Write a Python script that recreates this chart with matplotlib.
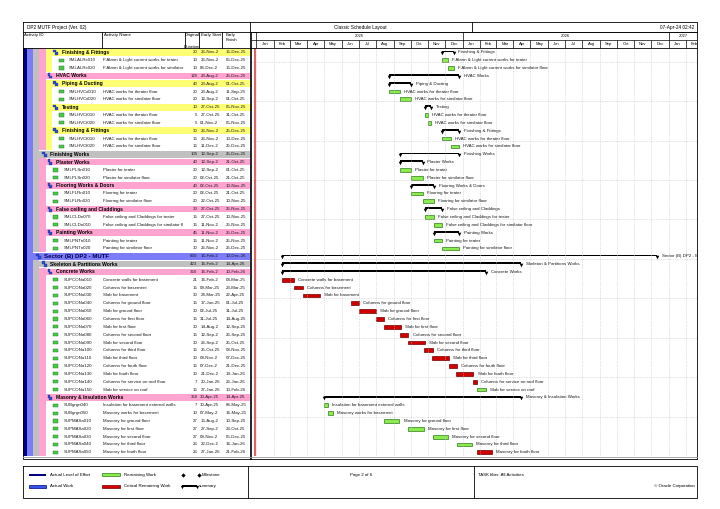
import datetime as dt
import numpy as np
import matplotlib
matplotlib.use('Agg')
import matplotlib.pyplot as plt
import matplotlib.dates as mdates
from matplotlib.patches import Rectangle
from matplotlib.transforms import Bbox, TransformedBbox

plt.rcParams['font.family'] = ['Liberation Sans', 'DejaVu Sans']

# ---------------- data ----------------
row_kind = (['g', 'a', 'a', 'g', 'g', 'a', 'a', 'g', 'a', 'a', 'g', 'a', 'a',
             'g', 'g', 'a', 'a', 'g', 'a', 'a', 'g', 'a', 'a', 'g', 'a', 'a',
             'g', 'g', 'g'] + ['a'] * 15 + ['g'] + ['a'] * 7)
row_level = ([4, 4, 4, 3, 4, 4, 4, 4, 4, 4, 4, 4, 4,
              2, 3, 3, 3, 3, 3, 3, 3, 3, 3, 3, 3, 3,
              1, 2, 3] + [3] * 15 + [3] + [3] * 7)
act_ids = ['', 'SMLALRc010', 'SMLALRc020', '', '', 'SMLHVCd010', 'SMLHVCd020', '',
           'SMLHVCt010', 'SMLHVCt020', '', 'SMLHVCf010', 'SMLHVCf020',
           '', '', 'SMLPLSn010', 'SMLPLSn020', '', 'SMLFLRn010', 'SMLFLRn020', '',
           'SMLCLDn070', 'SMLCLDn010', '', 'SMLPNTn010', 'SMLPNTn020',
           '', '', '',
           'SUPCONa010', 'SUPCONa020', 'SUPCONa030', 'SUPCONa040', 'SUPCONa050',
           'SUPCONa060', 'SUPCONa070', 'SUPCONa080', 'SUPCONa090', 'SUPCONa100',
           'SUPCONa110', 'SUPCONa120', 'SUPCONa130', 'SUPCONa140', 'SUPCONa150',
           '', 'SUBgrgn040', 'SUBgrgn050', 'SUPMASa010', 'SUPMASa020', 'SUPMASa030',
           'SUPMASa040', 'SUPMASa050']
act_names = ['Finishing & Fittings', 'F.Alarm & Light current works for teater',
             'F.Alarm & Light current works for similator floor', 'HVAC Works',
             'Piping & Ducting', 'HVAC works for theater floor', 'HVAC works for similator floor',
             'Testing', 'HVAC works for theater floor', 'HVAC works for similator floor',
             'Finishing & Fittings', 'HVAC works for theater floor', 'HVAC works for similator floor',
             'Finishing Works', 'Plaster Works', 'Plaster for teater', 'Plaster for similator floor',
             'Flooring Works & Doors', 'Flooring for teater', 'Flooring for similator floor',
             'False ceiling and Claddings', 'False ceiling and Claddings for teater',
             'False ceiling and Claddings for similator floor',
             'Painting Works', 'Painting for teater', 'Painting for similator floor',
             'Sector (B) DP2 - MUTF', 'Skeleton & Partitions Works', 'Concrete Works',
             'Concrete walls for basement', 'Columns for basement', 'Slab for basement',
             'Columns for ground floor', 'Slab for ground floor', 'Columns for first floor',
             'Slab for first floor', 'Columns for second floor', 'Slab for second floor',
             'Columns for third floor', 'Slab for third floor', 'Columns for fouth floor',
             'Slab for fouth floor', 'Columns for service on roof floor', 'Slab for service on roof',
             'Masonry & Insulation Works', 'Insulation for basement external walls',
             'Masonry works for basement', 'Masonry for ground floor', 'Masonry for first floor',
             'Masonry for second floor', 'Masonry for third floor', 'Masonry for fouth floor']
durations = [20, 10, 10, 125, 40, 20, 20, 10, 5, 5, 30, 15, 15,
             105, 40, 20, 20, 40, 20, 20, 30, 15, 15, 45, 15, 30,
             660, 423, 360,
             21, 15, 30, 15, 30, 15, 30, 15, 30, 15, 30, 15, 30, 7, 15,
             350, 7, 10, 27, 27, 27, 26, 26]
starts = ['26-Nov-25', '26-Nov-25', '06-Dec-25', '23-Aug-25', '23-Aug-25', '23-Aug-25',
          '12-Sep-25', '27-Oct-25', '27-Oct-25', '01-Nov-25', '26-Nov-25', '26-Nov-25',
          '11-Dec-25',
          '12-Sep-25', '12-Sep-25', '12-Sep-25', '02-Oct-25', '02-Oct-25', '02-Oct-25',
          '22-Oct-25', '27-Oct-25', '27-Oct-25', '11-Nov-25', '11-Nov-25', '11-Nov-25',
          '26-Nov-25',
          '16-Feb-25', '16-Feb-25', '16-Feb-25',
          '16-Feb-25', '09-Mar-25', '24-Mar-25', '17-Jun-25', '02-Jul-25', '31-Jul-25',
          '14-Aug-25', '12-Sep-25', '26-Sep-25', '25-Oct-25', '08-Nov-25', '07-Dec-25',
          '21-Dec-25', '20-Jan-26', '27-Jan-26',
          '30-Apr-25', '30-Apr-25', '07-May-25', '15-Aug-25', '27-Sep-25', '09-Nov-25',
          '22-Dec-25', '27-Jan-26']
finishes = ['15-Dec-25', '05-Dec-25', '15-Dec-25', '25-Dec-25', '01-Oct-25', '11-Sep-25',
            '01-Oct-25', '05-Nov-25', '31-Oct-25', '05-Nov-25', '25-Dec-25', '10-Dec-25',
            '25-Dec-25',
            '25-Dec-25', '21-Oct-25', '01-Oct-25', '21-Oct-25', '10-Nov-25', '21-Oct-25',
            '10-Nov-25', '25-Nov-25', '10-Nov-25', '25-Nov-25', '25-Dec-25', '25-Nov-25',
            '25-Dec-25',
            '10-Dec-26', '14-Apr-26', '10-Feb-26',
            '08-Mar-25', '23-Mar-25', '22-Apr-25', '01-Jul-25', '31-Jul-25', '14-Aug-25',
            '12-Sep-25', '26-Sep-25', '25-Oct-25', '08-Nov-25', '07-Dec-25', '21-Dec-25',
            '19-Jan-26', '26-Jan-26', '10-Feb-26',
            '14-Apr-26', '06-May-25', '16-May-25', '10-Sep-25', '23-Oct-25', '05-Dec-25',
            '16-Jan-26', '21-Feb-26']
critical = [0] * 29 + [1] * 14 + [0] + [0] + [0] * 6 + [1]

month_names = ['Jan', 'Feb', 'Mar', 'Apr', 'May', 'Jun',
               'Jul', 'Aug', 'Sep', 'Oct', 'Nov', 'Dec']
years = [2025, 2026, 2027]

# ---------------- layout helpers ----------------
W, H = 720, 509
fig = plt.figure(figsize=(7.2, 5.09), dpi=100)
rend = fig.canvas.get_renderer()


def width_of(text, size, **kw):
    t = fig.text(0, 0, text, fontsize=size, **kw)
    w = t.get_window_extent(rend).width
    t.remove()
    return w


def fit(text, px, **kw):
    # font size that makes `text` about `px` pixels wide
    return 10 * px / width_of(text, 10, **kw)


def cut(text, px, size):
    # drop trailing characters that do not fit a column, like P6 does
    while len(text) > 1 and width_of(text, size) > px:
        text = text[:-1]
    return text


FS = fit('Concrete walls for basement', 56)
FSB = fit('Finishing & Fittings', 46.7, fontweight='bold')
FSS = fit('Sector (B) DP2 - MUTF', 65.7, fontweight='bold')
FST = fit('DP2 MUTF Project (Ver. 02)', 60)


def place(x0, y0, x1, y1):
    return [x0 / W, 1 - y1 / H, (x1 - x0) / W, (y1 - y0) / H]


def d(s):
    return mdates.date2num(dt.datetime.strptime(s, '%d-%b-%y'))


n = len(row_kind)
YLIM = (51.47, -0.55)
TR = 249.5  # right edge of the table
TXT = '#1A1A1A'

# ---------------- activity table ----------------
tab = fig.add_axes(place(22.7, 48, TR, 456))
tab.set_xlim(22.7, TR)
tab.set_ylim(*YLIM)
tab.axis('off')

band_x = [22.7, 27.4, 33.3, 39.3, 45.6, 51.5]
level_col = ['#000080', '#7C7CF8', '#C0C0C0', '#FFA3D1', '#FFFF73']

for i in range(n):
    L = row_level[i]
    for l in range(L + 1):
        tab.add_patch(Rectangle((band_x[l], i - 0.5), band_x[l + 1] - band_x[l], 1,
                                fc=level_col[l], ec='none'))
    if row_kind[i] == 'g':
        tab.add_patch(Rectangle((band_x[L], i - 0.42), TR - band_x[L], 0.84,
                                fc=level_col[L], ec='none'))
        gx = 30.3 + 5.75 * L
        tab.add_patch(Rectangle((gx, i - 0.34), 2.8, 0.36, fc='#2B4FD8', ec='#10206F', lw=0.2))
        tab.add_patch(Rectangle((gx + 1.9, i - 0.04), 2.8, 0.36, fc='#2B4FD8', ec='#10206F', lw=0.2))
        size = FSS if L == 1 else FSB
        col = '#000050' if L == 1 else 'black'
        tab.text(gx + 8.3, i, act_names[i], fontsize=size, fontweight='bold',
                 va='center', ha='left', color=col)
    else:
        ax_ = 30.3 + 5.75 * (L + 1)
        tab.add_patch(Rectangle((ax_, i - 0.2), 5, 0.4, fc='#48CC48', ec='#1E6E1E', lw=0.3))
        tab.text(ax_ + 10, i, act_ids[i], fontsize=FS, va='center', ha='left', color=TXT)
        tab.text(103.3, i, cut(act_names[i], 81, FS), fontsize=FS, va='center',
                 ha='left', color=TXT)
    tab.text(197.5, i, str(durations[i]), fontsize=FS, va='center', ha='right', color=TXT)
    tab.text(200.3, i, cut(starts[i], 20.0, FS), fontsize=FS, va='center', ha='left', color=TXT)
    tab.text(225.5, i, cut(finishes[i], 23, FS), fontsize=FS, va='center', ha='left', color=TXT)

# ---------------- gantt ----------------
X0 = mdates.date2num(dt.datetime(2025, 1, 1))
XLIM = (X0 - 9.7, X0 + 779.9)
gan = fig.add_axes(place(251, 48, 697, 456))
gan.set_xlim(*XLIM)
gan.set_ylim(*YLIM)
gan.axis('off')

months = [dt.datetime(2025 + k // 12, k % 12 + 1, 1) for k in range(27)]
mnum = mdates.date2num(months)
gan.vlines(mnum[(mnum > XLIM[0]) & (mnum < XLIM[1])], YLIM[1], YLIM[0],
           colors='#C4C4C4', linestyles=(0, (1, 1.5)), lw=0.5)
gan.hlines(np.arange(1.2, 51.4, 5.027), XLIM[0], XLIM[1],
           colors='#C4C4C4', linestyles=(0, (1, 1.5)), lw=0.5)
gan.axvline(X0 - 2.7, color='#E05050', lw=1.3)

for i in range(n):
    s, f = d(starts[i]), d(finishes[i]) + 1
    if row_kind[i] == 'g':
        gan.barh(i - 0.1, f - s, left=s, height=0.24, color='black')
        gan.plot([s, f], [i + 0.12, i + 0.12], 'v', ms=2.6, color='black', mew=0)
        off = 3.4
    else:
        fc, ec = ('#D00000', '#700000') if critical[i] else ('#8CEB4C', '#2E7A1E')
        gan.barh(i, f - s, left=s, height=0.48, color=fc, edgecolor=ec, lw=0.5)
        off = 3.0
    lab = gan.annotate(act_names[i], (f, i), xytext=(off, 0), textcoords='offset points',
                       va='center', ha='left', fontsize=FS, color=TXT,
                       annotation_clip=False)
    lab.set_clip_on(True)
    lab.set_clip_box(gan.bbox)

# ---------------- timescale header ----------------
hdr = fig.add_axes(place(251, 32, 697, 48))
hdr.set_xlim(*XLIM)
hdr.set_ylim(2, 0)
hdr.axis('off')
hdr.hlines([0, 1, 2], XLIM[0], XLIM[1], colors='black', lw=0.5)
for k, m in enumerate(months):
    x = mdates.date2num(m)
    if XLIM[0] < x < XLIM[1]:
        top = 0 if m.month == 1 else 1
        hdr.vlines(x, top, 2, colors='black', lw=0.5)
    nxt = mdates.date2num(months[k + 1]) if k + 1 < len(months) else x + 28
    c = (x + nxt) / 2
    if c < XLIM[1]:
        mt = hdr.text(c, 1.5, month_names[m.month - 1], fontsize=FS * 0.95, ha='center',
                      va='center')
        mt.set_clip_box(hdr.bbox)
for y in years:
    a = max(mdates.date2num(dt.datetime(y, 1, 1)), XLIM[0])
    b = min(mdates.date2num(dt.datetime(y + 1, 1, 1)), XLIM[1])
    hdr.text((a + b) / 2, 0.5, str(y), fontsize=FS * 0.95, ha='center', va='center')

# ---------------- page frame, titles, legend ----------------
ov = fig.add_axes([0, 0, 1, 1])
ov.set_xlim(0, W)
ov.set_ylim(H, 0)
ov.axis('off')
ov.set_zorder(5)
ov.patch.set_visible(False)

lk = dict(color='black', lw=0.6)
ov.plot([22.7, 697, 697, 22.7, 22.7], [22, 22, 459, 459, 22], **lk)
ov.plot([22.7, 697], [32, 32], **lk)
ov.plot([22.7, 697], [48, 48], **lk)
ov.plot([250, 250], [22, 32], **lk)
ov.plot([472, 472], [22, 32], **lk)
for xc in [102, 185, 199, 221.7]:
    ov.plot([xc, xc], [32, 48], **lk)
ov.plot([TR, TR], [32, 459], **lk)
ov.plot([251, 251], [32, 459], **lk)
ov.plot([22.7, 697], [456.5, 456.5], color='#9A9A9A', lw=0.6)

ov.text(27, 27.3, 'DP2 MUTF Project (Ver. 02)', fontsize=FST, va='center')
ov.text(360, 27.3, 'Classic Schedule Layout', fontsize=FST, va='center', ha='center')
ov.text(694, 27.3, '07-Apr-24 02:42', fontsize=FST, va='center', ha='right')
ov.text(24.5, 35.3, 'Activity ID', fontsize=FS, va='center')
ov.text(104, 35.3, 'Activity Name', fontsize=FS, va='center')
ov.text(201, 35.3, 'Early Start', fontsize=FS, va='center')
ov.text(226, 35.3, 'Early', fontsize=FS, va='center')
ov.text(226, 40.3, 'Finish', fontsize=FS, va='center')
hb = TransformedBbox(Bbox([[185.3, 32.3], [198.7, 47.7]]), ov.transData)
for txt, yy in [('Original', 35.3), ('Duration', 46.5)]:
    t = ov.text(192, yy, txt, fontsize=FS, va='center', ha='center')
    t.set_clip_box(hb)

# legend box
ov.plot([22.7, 697, 697, 22.7, 22.7], [466, 466, 497.5, 497.5, 466], **lk)
ov.plot([248, 248], [466, 497.5], **lk)
ov.plot([474, 474], [466, 497.5], **lk)
ly1, ly2 = 474.8, 486.4
ov.add_patch(Rectangle((28.6, ly1 - 1), 17.4, 2, fc='#000080', ec='none'))
ov.add_patch(Rectangle((28.6, ly2 - 1.5), 17.4, 3, fc='#3355EE', ec='#000080', lw=0.5))
ov.text(50, ly1, 'Actual Level of Effort', fontsize=FS, va='center')
ov.text(50, ly2, 'Actual Work', fontsize=FS, va='center')
ov.add_patch(Rectangle((101.5, ly1 - 1.5), 18.5, 3, fc='#8CEB4C', ec='#2E7A1E', lw=0.5))
ov.add_patch(Rectangle((101.5, ly2 - 1.5), 18.5, 3, fc='#D00000', ec='#700000', lw=0.5))
ov.text(123.7, ly1, 'Remaining Work', fontsize=FS, va='center')
ov.text(123.7, ly2, 'Critical Remaining Work', fontsize=FS, va='center')
ov.plot([182.5, 199], [ly1, ly1], 'D', ms=2.2, color='black', mew=0)
ov.text(202, ly1, 'Milestone', fontsize=FS, va='center')
ov.add_patch(Rectangle((182, ly2 - 1.3), 14.5, 1.6, fc='black', ec='none'))
ov.plot([182, 196.5], [ly2 + 0.6, ly2 + 0.6], 'v', ms=2.4, color='black', mew=0)
ov.text(199, ly2, 'summary', fontsize=FS, va='center')
ov.text(361, ly1, 'Page 2 of 6', fontsize=FS, va='center', ha='center')
ov.text(477.5, ly1, 'TASK filter: All Activities', fontsize=FS, va='center')
ov.text(695, ly2, '\u00a9 Oracle Corporation', fontsize=FS, va='center', ha='right')

fig.savefig('out.png', dpi=100, facecolor='white')
